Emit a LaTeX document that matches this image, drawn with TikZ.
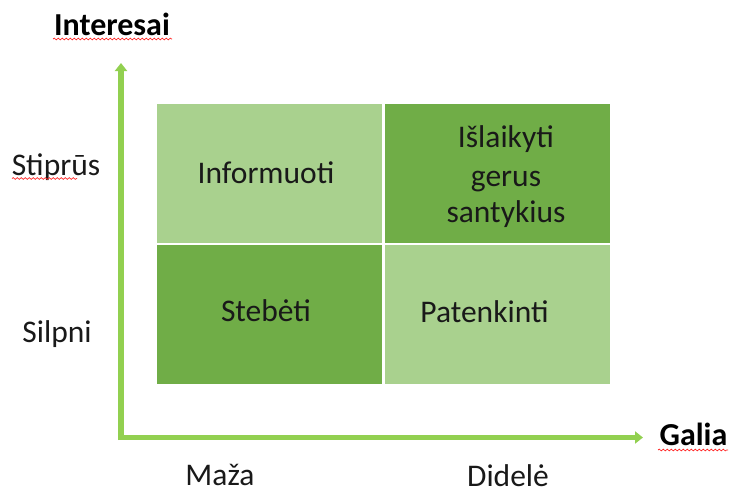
\documentclass[tikz,border=0pt]{standalone}
\usepackage{fontspec}
\setmainfont{Carlito}
\usetikzlibrary{arrows.meta,decorations.pathmorphing}
\definecolor{axisgreen}{HTML}{92D050}
\definecolor{celllight}{HTML}{A9D18E}
\definecolor{celldark}{HTML}{70AD47}
\tikzset{
  cellbox/.style={rectangle, inner sep=0pt, minimum width=225pt, minimum height=139pt, draw=none},
  lightcell/.style={cellbox, fill=celllight},
  darkcell/.style={cellbox, fill=celldark},
  celltext/.style={anchor=base, inner sep=0pt, font=\fontsize{31.5}{38}\selectfont, text=black!90},
  axislabel/.style={anchor=base, inner sep=0pt, font=\fontsize{31.5}{38}\selectfont, text=black!90},
  axistitle/.style={anchor=base, inner sep=0pt, font=\fontsize{32}{38}\selectfont\bfseries, text=black},
  axisline/.style={draw=axisgreen, line width=5.5pt, -{Triangle[width=12pt,length=8pt]}},
  spell/.style={draw=red!85, line width=0.7pt, decorate, decoration={snake, amplitude=0.9pt, segment length=4pt}}
}
\begin{document}
\begin{tikzpicture}[x=1pt,y=-1pt]
\useasboundingbox (0,0) rectangle (729,493);
% cells
\node[lightcell] (tl) at (269.5,173.5) {};
\node[darkcell]  (tr) at (497.5,173.5) {};
\node[darkcell]  (bl) at (269.5,314.5) {};
\node[lightcell] (br) at (497.5,314.5) {};
% cell texts
\node[celltext] (informuoti) at (266,183) {Informuoti};
\node[celltext] (isl1) at (506,147) {Išlaikyti};
\node[celltext] (isl2) at (506,186) {gerus};
\node[celltext] (isl3) at (506,222) {santykius};
\node[celltext] (stebeti) at (266,321) {Stebėti};
\node[celltext] (patenkinti) at (484.5,322) {Patenkinti};
% axes
\coordinate (origin) at (121,440);
\coordinate (ytip) at (121,63);
\coordinate (xstart) at (118,437.5);
\coordinate (xtip) at (643,437.5);
\draw[axisline] (origin) -- (ytip);
\draw[axisline] (xstart) -- (xtip);
% axis labels
\node[axistitle] (interesai) at (112,35) {Interesai};
\node[axistitle] (galia) at (693.5,445) {Galia};
\node[axislabel] (stiprus) at (56,175) {Stiprūs};
\node[axislabel] (silpni) at (57,342) {Silpni};
\node[axislabel] (maza) at (220,485) {Maža};
\node[axislabel] (didele) at (508,486) {Didelė};
% spell-check underlines
\draw[spell] (53,39) -- (172,39);
\draw[spell] (12,178.5) -- (77,178.5);
\draw[spell] (658,450) -- (728,450);
\end{tikzpicture}
\end{document}
